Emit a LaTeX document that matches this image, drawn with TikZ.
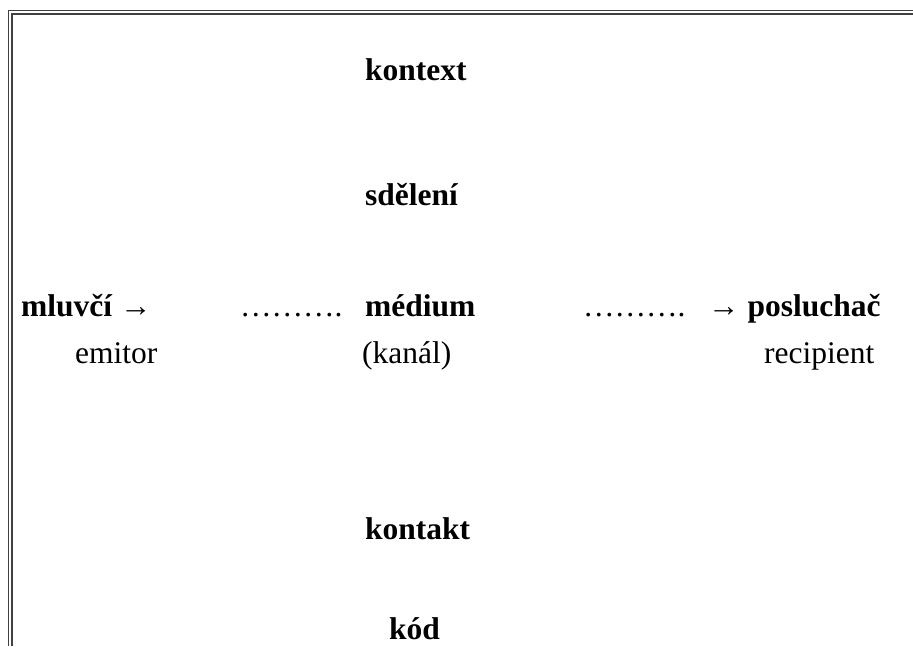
\documentclass[tikz,border=0pt]{standalone}
\usepackage{fontspec}
\setmainfont{Liberation Serif}
\begin{document}
\begin{tikzpicture}[x=1pt,y=-1pt,
  lbl/.style={anchor=base west,inner sep=0pt,font=\fontsize{31.5}{36}\selectfont\bfseries},
  sub/.style={anchor=base west,inner sep=0pt,font=\fontsize{31.5}{36}\selectfont},
  frame/.style={draw=black!75,line width=1.4pt}]
\useasboundingbox (0,0) rectangle (913,646);
% double frame (top and left visible)
\draw[frame] (8.7,646) -- (8.7,10.7) -- (913,10.7);
\draw[frame] (12,646) -- (12,14) -- (913,14);
% centre column
\node[lbl] (kontext) at (365,80) {kontext};
\node[lbl] (sdeleni) at (365,205) {sdělení};
\node[lbl] (medium) at (365,316) {médium};
\node[sub] (kanal) at (362,363) {(kanál)};
\node[lbl] (kontakt) at (365,539) {kontakt};
\node[lbl] (kod) at (389,639) {kód};
% left
\node[lbl] (mluvci) at (21,316) {mluvčí →};
\node[sub] (dotsL) at (240,316) {……….};
\node[sub] (emitor) at (75,363) {emitor};
% right
\node[sub] (dotsR) at (583,316) {……….};
\node[lbl] (posluchac) at (708,316) {→ posluchač};
\node[sub] (recipient) at (764,363) {recipient};
\end{tikzpicture}
\end{document}
